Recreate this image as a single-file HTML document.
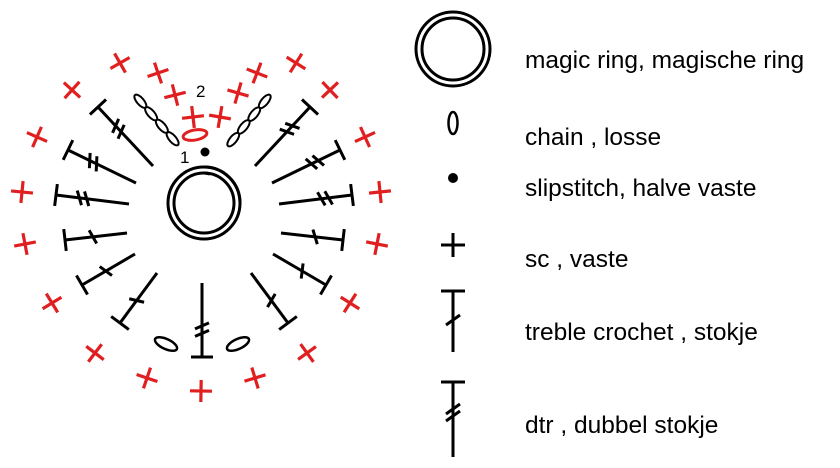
<!DOCTYPE html>
<html><head><meta charset="utf-8"><style>
html,body{margin:0;padding:0;background:#fff;width:840px;height:468px;overflow:hidden}
svg{display:block}
text{font-family:"Liberation Sans",sans-serif;font-size:24.5px;fill:#000}
</style></head><body>
<svg id="s" width="840" height="468" viewBox="0 0 840 468" xmlns="http://www.w3.org/2000/svg">
<g fill="none" stroke="#000" stroke-width="3">
<circle cx="204" cy="203" r="36"/><circle cx="204" cy="203" r="30"/>
<path d="M204 173 A30 30 0 0 1 210 174"/>
<path d="M204 167 A36 36 0 0 1 240 203"/>
<circle cx="453" cy="49" r="37"/><circle cx="453" cy="49" r="31"/>
<ellipse cx="453" cy="123" rx="4.5" ry="11" stroke-width="2.5"/>
<path d="M441 245H465M453 233V257"/>
<path d="M441 291H465M453 291V352M446 325L460 315"/>
<path d="M441 382H465M453 382V457M446 414L460 404M446 421L460 411"/>
<ellipse cx="195" cy="135" rx="12" ry="5" stroke="#e02020" transform="rotate(-10 195 135)"/>
<ellipse cx="166" cy="344" rx="12" ry="5" stroke-width="2.5" transform="rotate(25 166 344)"/>
<ellipse cx="238" cy="344" rx="12" ry="5" stroke-width="2.5" transform="rotate(-25 238 344)"/>
</g>
<circle cx="205" cy="152" r="4.5"/>
<circle cx="453" cy="178" r="5"/>
<text x="180" y="163" style="font-size:17px">1</text>
<text x="196" y="97" style="font-size:17px">2</text>
<text x="525" y="68">magic ring, magische ring</text>
<text x="525" y="145">chain , losse</text>
<text x="525" y="196">slipstitch, halve vaste</text>
<text x="525" y="267">sc , vaste</text>
<text x="525" y="340">treble crochet , stokje</text>
<text x="525" y="433">dtr , dubbel stokje</text>
<g id="g" fill="none" stroke="#000" stroke-width="3"></g>
</svg>
<script>
var g=document.getElementById('g'),NS='http://www.w3.org/2000/svg';
function L(x1,y1,x2,y2,c,w){var l=document.createElementNS(NS,'line');l.setAttribute('x1',x1);l.setAttribute('y1',y1);l.setAttribute('x2',x2);l.setAttribute('y2',y2);if(c)l.setAttribute('stroke',c);if(w)l.setAttribute('stroke-width',w);g.appendChild(l);}
function st(x1,y1,x2,y2,n){L(x1,y1,x2,y2);var dx=x2-x1,dy=y2-y1,d=Math.hypot(dx,dy),ux=dx/d,uy=dy/d,px=-uy,py=ux;
L(x2+px*11,y2+py*11,x2-px*11,y2-py*11);
for(var i=0;i<n;i++){var t=(n==1?0.55:0.58)+i*0.1,cx=x1+dx*t,cy=y1+dy*t;var ax=px*7+ux*3,ay=py*7+uy*3;L(cx+ax,cy+ay,cx-ax,cy-ay);}}
var S=[[153,166,98,107,2],[136,183,68,150,2],[129,204,56,195,2],[127,233,65,240,1],[135,254,82,285,1],[157,273,120,323,1]];
S.forEach(function(s){st(s[0],s[1],s[2],s[3],s[4]);st(408-s[0],s[1],408-s[2],s[3],s[4]);});
st(202,283,202,357,2);
function ch(x1,y1,x2,y2){var n=4;for(var i=0;i<n;i++){var t=(i+0.5)/n,cx=x1+(x2-x1)*t,cy=y1+(y2-y1)*t,a=Math.atan2(y2-y1,x2-x1)*180/Math.PI;var e=document.createElementNS(NS,'ellipse');e.setAttribute('cx',cx);e.setAttribute('cy',cy);e.setAttribute('rx',Math.hypot(x2-x1,y2-y1)/n/2);e.setAttribute('ry',3.5);e.setAttribute('stroke-width','2');e.setAttribute('transform','rotate('+a+' '+cx+' '+cy+')');g.appendChild(e);}}
ch(135,95,178,145);ch(270,95,228,146);
var X=[[120,63],[72,90],[158,73],[175,95],[193,117],[220,117],[238,93],[257,73],[296,63],[330,90],[37,137],[365,137],[22,192],[380,192],[25,244],[377,244],[52,303],[350,303],[95,353],[307,353],[147,378],[255,378],[201,391]];
X.forEach(function(p){var a=Math.atan2(p[1]-210,p[0]-204),c=Math.cos(a)*11,s=Math.sin(a)*11;L(p[0]-c,p[1]-s,p[0]+c,p[1]+s,'#e02020',3.2);L(p[0]+s,p[1]-c,p[0]-s,p[1]+c,'#e02020',3.2);});
</script>
</body></html>
